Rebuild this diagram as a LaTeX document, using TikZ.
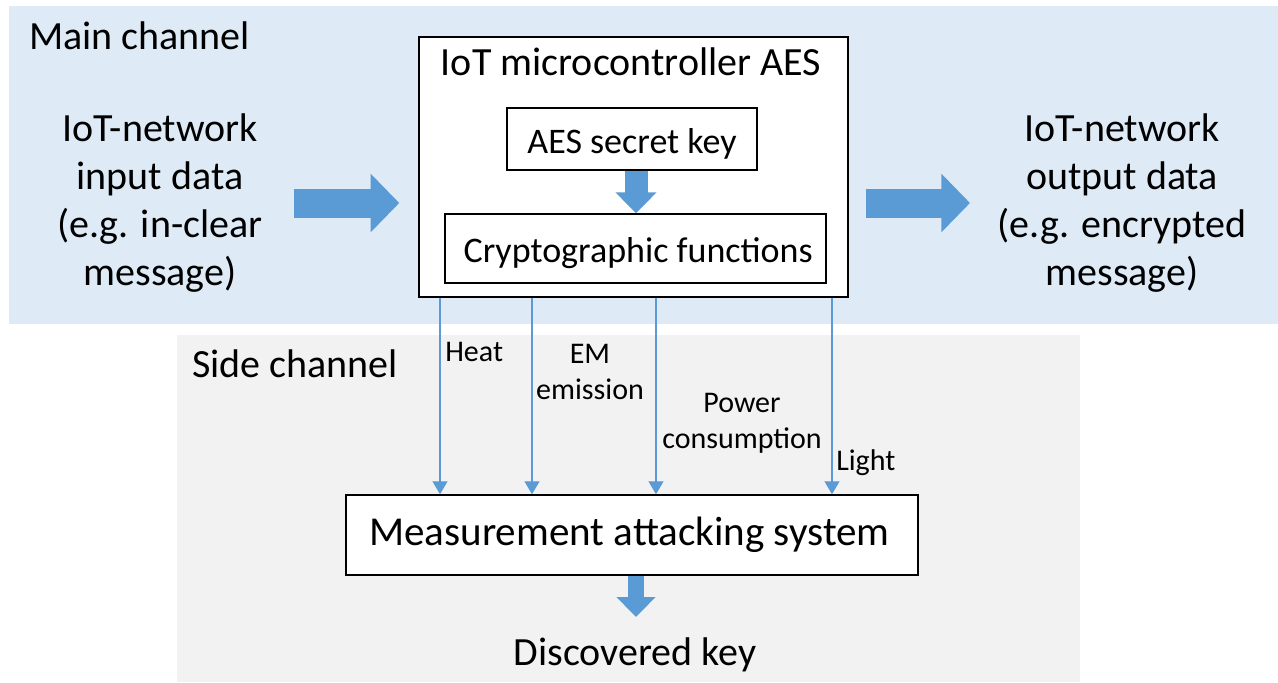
\documentclass[tikz,border=0pt]{standalone}
\usepackage{fontspec}
\setmainfont{Carlito}
\usetikzlibrary{arrows.meta}
\definecolor{mainbg}{RGB}{222,235,247}
\definecolor{sidebg}{RGB}{242,242,242}
\definecolor{flow}{RGB}{91,155,213}
\begin{document}
\begin{tikzpicture}[x=0.75pt,y=-0.75pt,
  box/.style={draw=black,line width=1.1pt,fill=white,inner sep=0pt},
  bigtxt/.style={font=\fontsize{30}{36}\selectfont,inner sep=0pt},
  innertxt/.style={font=\fontsize{27}{32}\selectfont,inner sep=0pt,
    text height=21pt,text depth=0pt},
  smalltxt/.style={font=\fontsize{22.5}{27}\selectfont,inner sep=0pt},
  widearrow/.style={flow,line width=21.75pt,line cap=butt,
    -{Triangle[length=21.5pt,width=42.75pt]}},
  midarrow/.style={flow,line width=17.25pt,line cap=butt,
    -{Triangle[length=15.75pt,width=30pt]}},
  keyarrow/.style={flow,line width=12pt,line cap=butt,
    -{Triangle[length=15pt,width=28.5pt]}},
  leak/.style={flow,line width=0.9pt,
    -{Triangle[length=9.75pt,width=11.25pt]}}
]
\useasboundingbox (0,0) rectangle (1278,682);

% channel backgrounds
\fill[mainbg] (9,6) rectangle (1278,324);
\fill[sidebg] (177,335) rectangle (1080,682);

\node[bigtxt,anchor=base west] (mainlbl) at (29,49) {Main channel};
\node[bigtxt,anchor=base west] (sidelbl) at (192,377) {Side channel};

% main channel (multi-line nodes are placed by their last baseline)
\node[bigtxt,anchor=base,align=center] (indata) at (160,285)
  {IoT-network\\input data\\(e.g. in-clear\\message)};
\node[bigtxt,anchor=base,align=center] (outdata) at (1122,285)
  {IoT-network\\output data\\(e.g. encrypted\\message)};

\node[box,minimum width=321.75pt,minimum height=195pt] (iot) at (633.5,167) {};
\node[bigtxt,anchor=base] (iottitle) at (631,75) {IoT microcontroller AES};
\node[box,innertxt,minimum width=187.5pt,minimum height=46.5pt] (aes) at (632,139) {AES secret key};
\node[box,innertxt,minimum width=285.75pt,minimum height=51.75pt] (crypto) at (635.5,248.5) {\hspace*{4pt}Cryptographic functions};

\coordinate (instart) at (294,203);
\coordinate (outend) at (970,203);
\draw[widearrow] (instart) -- ([xshift=-14.25pt]iot.west |- instart);
\draw[widearrow] ([xshift=12.75pt]iot.east |- outend) -- (outend);
\coordinate (keyx) at (636,0);
\draw[midarrow] (aes.south -| keyx) -- (crypto.north -| keyx);

% side channel
\node[box,font=\fontsize{30.8}{36}\selectfont,inner sep=0pt,minimum width=429pt,minimum height=60pt] (meas) at (632,535) {\hspace*{-4pt}Measurement attacking system};

\coordinate (heatx) at (440,0);
\coordinate (emx) at (532,0);
\coordinate (powx) at (656,0);
\coordinate (lightx) at (832,0);
\foreach \c in {heatx,emx,powx,lightx}
  \draw[leak] (iot.south -| \c) -- (meas.north -| \c);

\node[smalltxt,anchor=base west] (heat) at (445,361) {Heat};
\node[smalltxt,anchor=base,align=center] (em) at (590,399) {EM\\emission};
\node[smalltxt,anchor=base,align=center] (power) at (742,448) {Power\\consumption};
\node[smalltxt,anchor=base west] (light) at (836,470) {Light};

\coordinate (keytip) at (636,617);
\draw[keyarrow] (meas.south -| keytip) -- (keytip);
\node[bigtxt,anchor=base] (found) at (635,665) {Discovered key};
\end{tikzpicture}
\end{document}
